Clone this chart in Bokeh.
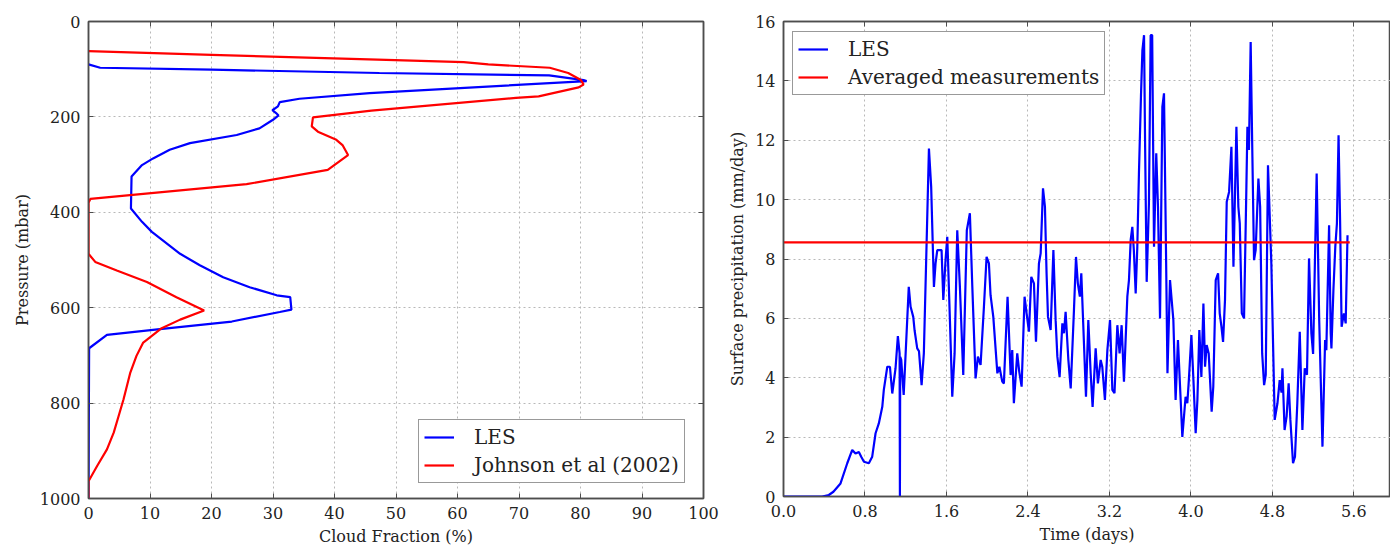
from bokeh.plotting import figure
from bokeh.layouts import row
from bokeh.models import (Range1d, LinearAxis, FixedTicker, Legend, LegendItem,
                          CustomJSTickFormatter, CustomLabelingPolicy)
from bokeh.embed import file_html
from bokeh.resources import INLINE

# ---------------- data: left panel (cloud fraction profiles) ----------------
les_cf = [0, 1.9, 20, 47.3, 74.9, 80.5, 81, 45.7, 34.3, 31.1, 30.8, 29.9, 30.5, 30.9, 30.0,
          27.8, 24.1, 16.5, 13.2, 10.5, 8.7, 7.0, 6.9, 8.7, 10.3, 14.9, 18.1, 21.9, 26.2,
          30.6, 32.8, 33.0, 31.1, 23.3, 11.6, 3.0, 0.1, 0]
les_p = [90, 97, 101, 108, 113, 123, 125, 150, 162, 169, 178, 186, 192, 197, 206,
         224, 238, 255, 269, 287, 301, 325, 392, 420, 441, 487, 511, 536, 557,
         574, 578, 604, 609, 629, 645, 657, 685, 1000]

obs_cf = [0, 20, 47, 61, 65, 75, 78, 80, 80.5, 79.7, 73.2, 69.5, 46, 36.5, 36.3, 37.3,
          40.3, 41.3, 42.2, 38.9, 25.7, 0.3, 0, 0, 1.1, 4.6, 9.5, 14.3, 18.8, 14.9,
          11.9, 10.3, 8.9, 7.8, 6.8, 5.7, 4.9, 4.1, 3.0, 1.4, 0, 0]
obs_p = [62, 70, 80, 85, 90, 97, 108, 122, 132, 138, 157, 160, 187, 201, 220, 231,
         248, 259, 280, 311, 341, 372, 380, 487, 504, 522, 546, 578, 606, 625,
         643, 659, 673, 701, 736, 792, 827, 862, 897, 932, 964, 1000]

# ---------------- data: right panel (surface precipitation) ----------------
t_days = [0.0, 0.38, 0.445, 0.49, 0.56, 0.626, 0.675, 0.707, 0.74, 0.763, 0.79, 0.838, 0.871,
          0.904, 0.936, 0.97, 0.985, 1.019, 1.045, 1.068, 1.10, 1.123, 1.140, 1.143, 1.146,
          1.156, 1.18, 1.23, 1.248, 1.274, 1.287, 1.313, 1.33, 1.356, 1.378, 1.405, 1.428,
          1.45, 1.477, 1.493, 1.51, 1.535, 1.552, 1.569, 1.591, 1.608, 1.634, 1.657, 1.68,
          1.706, 1.732, 1.765, 1.80, 1.83, 1.854, 1.886, 1.909, 1.935, 1.968, 1.994, 2.017,
          2.033, 2.06, 2.10, 2.12, 2.148, 2.164, 2.20, 2.23, 2.246, 2.262, 2.295, 2.315,
          2.338, 2.367, 2.387, 2.41, 2.433, 2.459, 2.479, 2.508, 2.525, 2.548, 2.567, 2.583,
          2.597, 2.623, 2.65, 2.672, 2.689, 2.711, 2.738, 2.754, 2.77, 2.797, 2.82, 2.852,
          2.872, 2.89, 2.91, 2.924, 2.944, 2.97, 2.993, 3.016, 3.035, 3.065, 3.087, 3.114,
          3.13, 3.156, 3.18, 3.206, 3.229, 3.25, 3.278, 3.30, 3.32, 3.343, 3.376, 3.392,
          3.409, 3.425, 3.44, 3.458, 3.474, 3.49, 3.51, 3.524, 3.54, 3.55, 3.566, 3.588,
          3.605, 3.62, 3.638, 3.66, 3.677, 3.697, 3.72, 3.736, 3.752, 3.77, 3.795, 3.828,
          3.85, 3.873, 3.916, 3.948, 3.965, 3.98, 4.005, 4.025, 4.047, 4.064, 4.083, 4.103,
          4.123, 4.139, 4.155, 4.175, 4.19, 4.204, 4.22, 4.244, 4.267, 4.283, 4.30, 4.316,
          4.335, 4.352, 4.375, 4.398, 4.418, 4.447, 4.466, 4.48, 4.50, 4.522, 4.545, 4.555,
          4.57, 4.587, 4.604, 4.62, 4.636, 4.663, 4.68, 4.70, 4.719, 4.735, 4.757, 4.79,
          4.823, 4.85, 4.872, 4.89, 4.899, 4.92, 4.94, 4.96, 4.977, 5.003, 5.022, 5.045,
          5.069, 5.095, 5.118, 5.14, 5.16, 5.183, 5.2, 5.235, 5.26, 5.292, 5.318, 5.33,
          5.357, 5.373, 5.38, 5.40, 5.418, 5.434, 5.45, 5.465, 5.48, 5.503, 5.52, 5.538]
precip = [0.0, 0.0, 0.05, 0.16, 0.44, 1.12, 1.57, 1.45, 1.5, 1.34, 1.17, 1.12, 1.34,
          2.13, 2.46, 3.02, 3.59, 4.37, 4.37, 3.47, 4.32, 5.4, 4.82, 0.0, 4.7,
          4.6, 3.42, 7.06, 6.39, 6.05, 5.6, 4.99, 4.9, 3.75, 4.82, 8.52, 11.72,
          10.43, 7.06, 7.85, 8.3, 8.3, 8.3, 6.62, 7.96, 8.75, 5.94, 3.36, 4.82,
          8.97, 7.06, 4.09, 8.97, 9.54, 7.06, 3.98, 4.71, 4.43, 6.39, 8.07, 7.85,
          6.78, 6.05, 4.15, 4.37, 3.87, 3.81, 6.73, 4.09, 4.93, 3.14, 4.82, 4.2,
          3.7, 6.73, 6.17, 5.55, 7.4, 7.18, 5.21, 7.85, 8.19, 10.38, 9.76, 7.52,
          6.05, 5.61, 8.3, 5.94, 4.71, 4.03, 5.83, 5.5, 6.22, 4.6, 3.64, 6.28,
          8.07, 7.18, 6.73, 7.52, 5.72, 3.36, 5.94, 4.15, 3.02, 4.99, 3.81, 4.6,
          4.37, 3.25, 4.93, 5.94, 3.59, 3.48, 5.77, 4.82, 5.77, 3.87, 6.73, 7.29,
          8.64, 9.08, 8.3, 6.84, 8.41, 10.88, 13.5, 15.03, 15.54, 12.0, 7.23, 9.87,
          15.54, 15.54, 8.41, 11.56, 9.76, 6.0, 13.12, 13.58, 9.31, 4.15, 7.29, 5.94,
          3.25, 5.27, 2.01, 3.36, 3.14, 3.92, 5.44, 3.92, 2.13, 3.25, 5.61, 4.03,
          6.5, 4.37, 5.1, 4.82, 3.81, 2.86, 3.7, 7.29, 7.52, 6.17, 5.72, 5.21,
          6.62, 9.93, 10.26, 11.78, 7.74, 12.45, 9.76, 9.2, 6.17, 6.0, 10.43, 12.45,
          11.67, 15.31, 11.44, 7.96, 8.3, 10.71, 9.76, 4.82, 3.75, 4.1, 11.16, 7.85,
          2.58, 3.14, 3.92, 3.5, 4.32, 2.24, 2.7, 3.81, 2.58, 1.12, 1.34, 3.14,
          5.55, 2.24, 4.32, 4.1, 8.02, 5.5, 4.8, 10.88, 5.94, 1.68, 5.27, 4.93,
          9.14, 5.5, 4.99, 7.0, 8.41, 9.2, 12.17, 9.31, 5.72, 6.17, 5.83, 8.8]
avg_time = [0.0, 5.56]
avg_precip = [8.56, 8.56]

left_xticks = [0, 10, 20, 30, 40, 50, 60, 70, 80, 90, 100]
left_yticks = [0, 200, 400, 600, 800, 1000]
right_xticks = [0.0, 0.8, 1.6, 2.4, 3.2, 4.0, 4.8, 5.6]
right_yticks = [0, 2, 4, 6, 8, 10, 12, 14, 16]

FONT = "DejaVu Serif"
TICK_FS = "16px"
LAB_FS = "16px"
LEG_FS = "20px"
FRAME_C = "#4d4d4d"
BLUE = "#0000ff"
RED = "#ff0000"


def tick_only_axis(ticks):
    no_labels = CustomLabelingPolicy(code="""
        for (const i of Array.from(indices)) { indices.unset(i) }
        return indices
    """)
    return LinearAxis(ticker=FixedTicker(ticks=ticks), major_label_policy=no_labels,
                      major_label_text_font_size="1px",
                      major_tick_in=5, major_tick_out=0, minor_tick_line_color=None,
                      axis_line_color=FRAME_C, axis_line_width=1.5,
                      major_tick_line_color=FRAME_C, major_label_standoff=0)


def style(p, xticks, yticks, add_right=True):
    p.outline_line_color = FRAME_C
    p.outline_line_width = 1.5
    for ax in p.axis:
        ax.axis_line_color = FRAME_C
        ax.axis_line_width = 1.5
        ax.major_tick_in = 5
        ax.major_tick_out = 0
        ax.major_tick_line_color = FRAME_C
        ax.minor_tick_line_color = None
        ax.major_label_text_font = FONT
        ax.major_label_text_font_size = TICK_FS
        ax.major_label_text_color = "#222222"
        ax.axis_label_text_font = FONT
        ax.axis_label_text_font_size = LAB_FS
        ax.axis_label_text_font_style = "normal"
        ax.axis_label_text_color = "#222222"
        ax.major_label_standoff = 8
    p.xaxis.ticker = FixedTicker(ticks=xticks)
    p.yaxis.ticker = FixedTicker(ticks=yticks)
    for g in p.grid:
        g.grid_line_color = "#b8b8b8"
        g.grid_line_dash = "2 3"
        g.grid_line_width = 1
    p.add_layout(tick_only_axis(xticks), "above")
    if add_right:
        p.add_layout(tick_only_axis(yticks), "right")


def style_legend(lg):
    lg.label_text_font = FONT
    lg.label_text_font_size = LEG_FS
    lg.label_text_color = "#222222"
    lg.border_line_color = "#333333"
    lg.border_line_width = 1.5
    lg.glyph_width = 30
    lg.glyph_height = 20
    lg.label_height = 20
    lg.label_standoff = 20
    lg.spacing = 4
    lg.padding = 5
    lg.margin = 0
    lg.background_fill_alpha = 1.0


# ---------------- left figure ----------------
p1 = figure(frame_width=615, frame_height=477, min_border_left=88, min_border_right=17,
            min_border_top=20, min_border_bottom=53,
            x_range=Range1d(0, 100), y_range=Range1d(1000, 0),
            output_backend="svg", toolbar_location=None)
p1.xaxis.axis_label = "Cloud Fraction (%)"
p1.yaxis.axis_label = "Pressure (mbar)"
style(p1, left_xticks, left_yticks, add_right=True)

r_les = p1.line(les_cf, les_p, line_color=BLUE, line_width=2.2)
r_obs = p1.line(obs_cf, obs_p, line_color=RED, line_width=2.2)
lg1 = Legend(items=[LegendItem(label="LES", renderers=[r_les]),
                    LegendItem(label="Johnson et al (2002)", renderers=[r_obs])],
             location=(330, 15))
style_legend(lg1)
p1.add_layout(lg1, "center")

# ---------------- right figure ----------------
p2 = figure(frame_width=607, frame_height=475, min_border_left=63, min_border_right=0,
            min_border_top=21, min_border_bottom=54,
            x_range=Range1d(0, 5.96), y_range=Range1d(0, 16),
            output_backend="svg", toolbar_location=None)
p2.xaxis.axis_label = "Time (days)"
p2.yaxis.axis_label = "Surface precipitation (mm/day)"
style(p2, right_xticks, right_yticks, add_right=False)
for ax in p2.below:
    ax.formatter = CustomJSTickFormatter(code="return tick.toFixed(1)")

r_sim = p2.line(t_days, precip, line_color=BLUE, line_width=2.2)
r_avg = p2.line(avg_time, avg_precip, line_color=RED, line_width=2.2)
lg2 = Legend(items=[LegendItem(label="LES", renderers=[r_sim]),
                    LegendItem(label="Averaged measurements", renderers=[r_avg])],
             location=(9, 401))
style_legend(lg2)
p2.add_layout(lg2, "center")

layout = row(p1, p2)
open("out.html", "w").write(file_html(layout, INLINE))
